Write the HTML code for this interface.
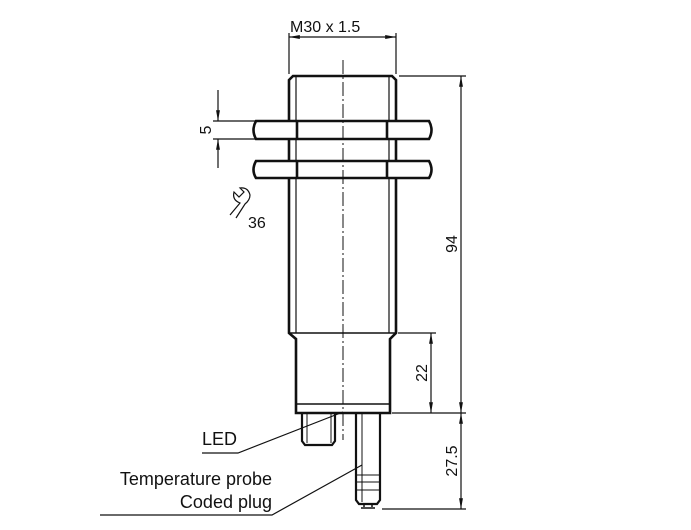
<!DOCTYPE html>
<html><head><style>body{margin:0;background:#fff}svg{display:block}text{font-family:"Liberation Sans",sans-serif;fill:#111}</style></head><body>
<svg width="691" height="530" viewBox="0 0 691 530" xmlns="http://www.w3.org/2000/svg">
<defs><marker id="a" viewBox="0 0 10 10" refX="10" refY="5" markerWidth="9" markerHeight="9" orient="auto-start-reverse"><path d="M0,3.2L10,5L0,6.8z" fill="#111"/></marker></defs>
<g stroke="#111" fill="none">
<path d="M289,333 V80 L293,76 H392 L396,80 V333 L390,339 V413 H296 V339 Z" stroke-width="2.6"/>
<line x1="296" y1="76" x2="296" y2="333" stroke-width="1.2"/>
<line x1="389" y1="76" x2="389" y2="333" stroke-width="1.2"/>
<line x1="289" y1="333" x2="396" y2="333" stroke-width="1.5"/>
<line x1="296" y1="404" x2="390" y2="404" stroke-width="1.5"/>
<g stroke-width="2.6" fill="#fff">
<path d="M256,121 H429 Q434,130 429,139 H256 Q251,130 256,121Z"/>
<path d="M256,161 H429 Q434,170 429,178 H256 Q251,170 256,161Z"/>
</g>
<g stroke-width="2.6"><line x1="297" y1="121" x2="297" y2="139"/><line x1="387" y1="121" x2="387" y2="139"/><line x1="297" y1="161" x2="297" y2="178"/><line x1="387" y1="161" x2="387" y2="178"/></g>
<line x1="343" y1="60" x2="343" y2="440" stroke-width="1" stroke-dasharray="14,3,2,3"/>
<path d="M302,413 V441 L305,445 H332 L335,441 V413" stroke-width="2.2"/>
<line x1="307" y1="413" x2="307" y2="443" stroke-width="1"/>
<line x1="331" y1="413" x2="331" y2="443" stroke-width="1"/>
<path d="M356,413 V500 L359,504 H377 L380,500 V413" stroke-width="2.2"/>
<line x1="362" y1="413" x2="362" y2="502" stroke-width="1"/>
<line x1="356" y1="475" x2="380" y2="475" stroke-width="1"/>
<line x1="356" y1="482" x2="380" y2="482" stroke-width="1"/>
<line x1="356" y1="490" x2="380" y2="490" stroke-width="1"/>
<path d="M364,504 V507 M372,504 V507 M361,508 H375" stroke-width="1.5"/>
<g stroke-width="1.2">
<line x1="289" y1="33" x2="289" y2="74"/><line x1="396" y1="33" x2="396" y2="74"/>
<line x1="289" y1="37" x2="396" y2="37" marker-start="url(#a)" marker-end="url(#a)"/>
<line x1="399" y1="76" x2="466" y2="76"/>
<line x1="461" y1="76" x2="461" y2="413" marker-start="url(#a)" marker-end="url(#a)"/>
<line x1="398" y1="333" x2="436" y2="333"/>
<line x1="431" y1="333" x2="431" y2="413" marker-start="url(#a)" marker-end="url(#a)"/>
<line x1="392" y1="413" x2="466" y2="413"/>
<line x1="461" y1="413" x2="461" y2="509" marker-start="url(#a)" marker-end="url(#a)"/>
<line x1="382" y1="509" x2="466" y2="509"/>
<line x1="213" y1="121" x2="262" y2="121"/><line x1="213" y1="139" x2="262" y2="139"/>
<line x1="218" y1="90" x2="218" y2="121" marker-end="url(#a)"/>
<line x1="218" y1="168" x2="218" y2="139" marker-end="url(#a)"/>
<polyline points="202,453 238,453 343,412"/>
<polyline points="100,515 272,515 362,465"/>
<path d="M230,215 L240,203 Q232,200 234,192 L239,197 L244,192 L240,188 Q248,187 250,195 Q250,200 245,204 L236,218" stroke-width="1.2"/>
</g>
</g>
<g>
<text x="290" y="32" font-size="16">M30 x 1.5</text>
<text x="248" y="228" font-size="16">36</text>
<text transform="translate(211,130) rotate(-90)" text-anchor="middle" font-size="16">5</text>
<text transform="translate(457,244) rotate(-90)" text-anchor="middle" font-size="16">94</text>
<text transform="translate(427,373) rotate(-90)" text-anchor="middle" font-size="16">22</text>
<text transform="translate(457,461) rotate(-90)" text-anchor="middle" font-size="16">27.5</text>
<text x="202" y="445" font-size="18">LED</text>
<text x="272" y="485" text-anchor="end" font-size="18">Temperature probe</text>
<text x="272" y="508" text-anchor="end" font-size="18">Coded plug</text>
</g>
</svg>
</body></html>
